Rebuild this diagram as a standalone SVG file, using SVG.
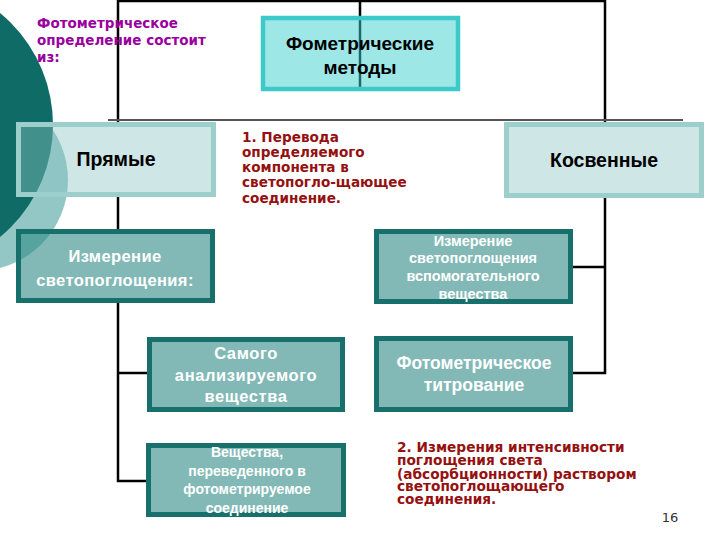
<svg xmlns="http://www.w3.org/2000/svg" width="720" height="540" viewBox="0 0 720 540">
<style>
.ln{stroke:#000;stroke-width:2.5;fill:none}
.gray{stroke:#555;stroke-width:2;fill:none}
.top{fill:#3CCFCF;fill-opacity:0.5;stroke:#3CC9C9;stroke-width:4.5}
.lite{fill:#8AC4C2;fill-opacity:0.42;stroke:#9CCFCC;stroke-width:5}
.dark{fill:#2E8A86;fill-opacity:0.6;stroke:#17706B;stroke-width:5}
.bt{font-family:"Liberation Sans",Arial,sans-serif;font-weight:bold;text-anchor:middle}
.blk{fill:#000}
.wht{fill:#fff}
.note{font-family:"DejaVu Sans",Verdana,sans-serif;font-weight:bold}
</style>
<rect width="720" height="540" fill="#fff"/>
<g id="background">
<circle cx="-23" cy="180" r="91" fill="#93C7C6"/>
<circle cx="-92" cy="125" r="145" fill="#0E6B66"/>
</g>
<g id="connectors">
<polyline class="ln" points="118,122 118,1 605,1 605,122"/>
<line class="ln" x1="360" y1="0" x2="360" y2="91"/>
<line class="gray" x1="108" y1="120" x2="683" y2="120"/>
<line class="ln" x1="118" y1="197" x2="118" y2="229"/>
<polyline class="ln" points="118,303 118,481 146,481"/>
<line class="ln" x1="118" y1="373" x2="147" y2="373"/>
<polyline class="ln" points="605,198 605,373 573,373"/>
<line class="ln" x1="605" y1="267" x2="573" y2="267"/>
</g>
<g id="n-methods">
<rect class="top" x="263" y="18" width="195" height="71"/>
<text class="bt blk" font-size="19" x="360" y="50">Фометрические</text>
<text class="bt blk" font-size="19" x="360" y="74">методы</text>
</g>
<g id="n-direct">
<rect class="lite" x="18.5" y="124.5" width="195" height="70"/>
<text class="bt blk" font-size="19.5" x="116" y="166">Прямые</text>
</g>
<g id="n-indirect">
<rect class="lite" x="506.5" y="124.5" width="195" height="71"/>
<text class="bt blk" font-size="19.5" x="604" y="167">Косвенные</text>
</g>
<g id="n-measure">
<rect class="dark" x="18.5" y="231.5" width="194" height="69"/>
<text class="bt wht" font-size="16.5" letter-spacing="0.4" x="115" y="262">Измерение</text>
<text class="bt wht" font-size="16.5" letter-spacing="0.4" x="115" y="286">светопоглощения:</text>
</g>
<g id="n-self">
<rect class="dark" x="149.5" y="339.5" width="193" height="70"/>
<text class="bt wht" font-size="16.5" letter-spacing="0.6" x="246" y="359">Самого</text>
<text class="bt wht" font-size="16.5" letter-spacing="0.6" x="246" y="381">анализируемого</text>
<text class="bt wht" font-size="16.5" letter-spacing="0.6" x="246" y="402">вещества</text>
</g>
<g id="n-converted">
<rect class="dark" x="148.5" y="445.5" width="195" height="69"/>
<text class="bt wht" font-size="14" x="247" y="457">Вещества,</text>
<text class="bt wht" font-size="14" x="247" y="476">переведенного в</text>
<text class="bt wht" font-size="14" x="247" y="494">фотометрируемое</text>
<text class="bt wht" font-size="14" x="247" y="513">соединение</text>
</g>
<g id="n-aux">
<rect class="dark" x="376.5" y="231.5" width="194" height="70"/>
<text class="bt wht" font-size="14.5" x="473" y="246">Измерение</text>
<text class="bt wht" font-size="14.5" x="473" y="263">светопоглощения</text>
<text class="bt wht" font-size="14.5" x="473" y="281">вспомогательного</text>
<text class="bt wht" font-size="14.5" x="473" y="299">вещества</text>
</g>
<g id="n-titration">
<rect class="dark" x="376.5" y="338.5" width="194" height="71"/>
<text class="bt wht" font-size="17.5" x="474" y="369">Фотометрическое</text>
<text class="bt wht" font-size="17.5" x="474" y="391">титрование</text>
</g>
<g id="notes">
<text class="note" font-size="13.5" fill="#99009E"><tspan x="37" y="28">Фотометрическое</tspan><tspan x="37" y="45">определение состоит</tspan><tspan x="37" y="62">из:</tspan></text>
<text class="note" font-size="13.6" fill="#951010"><tspan x="242" y="142">1. Перевода</tspan><tspan x="242" y="157">определяемого</tspan><tspan x="242" y="172">компонента в</tspan><tspan x="242" y="187">светопогло-щающее</tspan><tspan x="242" y="203">соединение.</tspan></text>
<text class="note" font-size="13.7" fill="#951010"><tspan x="397" y="452">2. Измерения интенсивности</tspan><tspan x="397" y="465">поглощения света</tspan><tspan x="397" y="479">(абсорбционности) раствором</tspan><tspan x="397" y="491">светопоглощающего</tspan><tspan x="397" y="504">соединения.</tspan></text>
<text font-family="DejaVu Sans,Verdana,sans-serif" font-size="13" fill="#333" text-anchor="middle" x="670" y="522">16</text>
</g>
</svg>
